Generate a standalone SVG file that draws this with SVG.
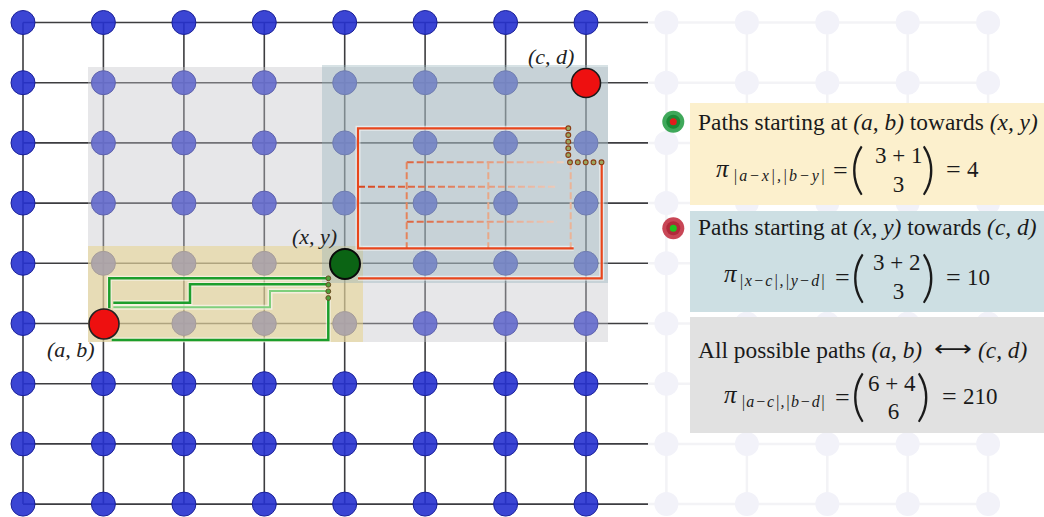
<svg xmlns="http://www.w3.org/2000/svg" xmlns:xlink="http://www.w3.org/1999/xlink" width="1044" height="517" viewBox="0 0 1044 517">
<style>
.gl{stroke:#3d3d40;stroke-width:1.6;fill:none}
.fl{stroke:#f3f3f6;stroke-width:2.5;fill:none}
.lbl{font-family:"Liberation Serif",serif;font-style:italic;font-size:22px;fill:#222}
.t{font-family:"Liberation Serif",serif;font-size:23.4px;fill:#1a1a1a}
.m{font-family:"Liberation Serif",serif;fill:#1a1a1a}
.it{font-style:italic}
.par{font-family:Lato,"Open Sans",sans-serif;font-weight:300;fill:#1a1a1a}
.gp{fill:none;stroke:#1c9e2c;stroke-width:2.5}
.gpl{fill:none;stroke:#7fcf7c;stroke-width:2}
.halo{fill:none;stroke:#ffffff;stroke-opacity:0.55;stroke-width:5}
.rp{fill:none;stroke:#e8461c;stroke-width:2.2}
.rd{fill:none;stroke-width:2;stroke-dasharray:7 3}
.gdot{fill:#4fa03a;stroke:#6a4a22;stroke-width:1}
.rdot{fill:#9aa860;stroke:#8a3c14;stroke-width:1.1}
</style>
<defs>
<circle id="n" r="12" fill="#2631cf" fill-opacity="0.9" stroke="#1b2199" stroke-width="1"/>
<circle id="fn" r="12" fill="#f2f2f9"/>
<linearGradient id="rg" gradientUnits="userSpaceOnUse" x1="358" y1="0" x2="572" y2="0">
<stop offset="0" stop-color="#d8441c"/>
<stop offset="0.55" stop-color="#e49070"/>
<stop offset="1" stop-color="#efd6c8"/>
</linearGradient>
</defs>
<rect width="1044" height="517" fill="#ffffff"/>

<!-- faded grid on the right -->
<g id="faded-grid">
<path class="fl" d="M648,22.5H988M648,82.7H988M648,142.9H988M648,203.1H988M648,263.3H988M648,323.5H988M648,383.7H988M648,443.9H988M648,504.1H988M666.4,22.5V504.1M746.9,22.5V504.1M827.3,22.5V504.1M907.7,22.5V504.1M988.1,22.5V504.1"/>
<g transform="translate(0,22.5)"><use href="#fn" x="666.4"/><use href="#fn" x="746.9"/><use href="#fn" x="827.3"/><use href="#fn" x="907.7"/><use href="#fn" x="988.1"/></g>
<g transform="translate(0,82.7)"><use href="#fn" x="666.4"/><use href="#fn" x="746.9"/><use href="#fn" x="827.3"/><use href="#fn" x="907.7"/><use href="#fn" x="988.1"/></g>
<g transform="translate(0,142.9)"><use href="#fn" x="666.4"/><use href="#fn" x="746.9"/><use href="#fn" x="827.3"/><use href="#fn" x="907.7"/><use href="#fn" x="988.1"/></g>
<g transform="translate(0,203.1)"><use href="#fn" x="666.4"/><use href="#fn" x="746.9"/><use href="#fn" x="827.3"/><use href="#fn" x="907.7"/><use href="#fn" x="988.1"/></g>
<g transform="translate(0,263.3)"><use href="#fn" x="666.4"/><use href="#fn" x="746.9"/><use href="#fn" x="827.3"/><use href="#fn" x="907.7"/><use href="#fn" x="988.1"/></g>
<g transform="translate(0,323.5)"><use href="#fn" x="666.4"/><use href="#fn" x="746.9"/><use href="#fn" x="827.3"/><use href="#fn" x="907.7"/><use href="#fn" x="988.1"/></g>
<g transform="translate(0,383.7)"><use href="#fn" x="666.4"/><use href="#fn" x="746.9"/><use href="#fn" x="827.3"/><use href="#fn" x="907.7"/><use href="#fn" x="988.1"/></g>
<g transform="translate(0,443.9)"><use href="#fn" x="666.4"/><use href="#fn" x="746.9"/><use href="#fn" x="827.3"/><use href="#fn" x="907.7"/><use href="#fn" x="988.1"/></g>
<g transform="translate(0,504.1)"><use href="#fn" x="666.4"/><use href="#fn" x="746.9"/><use href="#fn" x="827.3"/><use href="#fn" x="907.7"/><use href="#fn" x="988.1"/></g>
</g>

<!-- main lattice -->
<g id="lattice">
<path class="gl" d="M23,22.5H648M23,82.7H648M23,142.9H648M23,203.1H648M23,263.3H648M23,323.5H648M23,383.7H648M23,443.9H648M23,504.1H648M23,22.5V504.1M103.4,22.5V504.1M183.9,22.5V504.1M264.3,22.5V504.1M344.7,22.5V504.1M425.1,22.5V504.1M505.6,22.5V504.1M586,22.5V504.1"/>
<g transform="translate(0,22.5)"><use href="#n" x="23"/><use href="#n" x="103.4"/><use href="#n" x="183.9"/><use href="#n" x="264.3"/><use href="#n" x="344.7"/><use href="#n" x="425.1"/><use href="#n" x="505.6"/><use href="#n" x="586"/></g>
<g transform="translate(0,82.7)"><use href="#n" x="23"/><use href="#n" x="103.4"/><use href="#n" x="183.9"/><use href="#n" x="264.3"/><use href="#n" x="344.7"/><use href="#n" x="425.1"/><use href="#n" x="505.6"/><use href="#n" x="586"/></g>
<g transform="translate(0,142.9)"><use href="#n" x="23"/><use href="#n" x="103.4"/><use href="#n" x="183.9"/><use href="#n" x="264.3"/><use href="#n" x="344.7"/><use href="#n" x="425.1"/><use href="#n" x="505.6"/><use href="#n" x="586"/></g>
<g transform="translate(0,203.1)"><use href="#n" x="23"/><use href="#n" x="103.4"/><use href="#n" x="183.9"/><use href="#n" x="264.3"/><use href="#n" x="344.7"/><use href="#n" x="425.1"/><use href="#n" x="505.6"/><use href="#n" x="586"/></g>
<g transform="translate(0,263.3)"><use href="#n" x="23"/><use href="#n" x="103.4"/><use href="#n" x="183.9"/><use href="#n" x="264.3"/><use href="#n" x="344.7"/><use href="#n" x="425.1"/><use href="#n" x="505.6"/><use href="#n" x="586"/></g>
<g transform="translate(0,323.5)"><use href="#n" x="23"/><use href="#n" x="103.4"/><use href="#n" x="183.9"/><use href="#n" x="264.3"/><use href="#n" x="344.7"/><use href="#n" x="425.1"/><use href="#n" x="505.6"/><use href="#n" x="586"/></g>
<g transform="translate(0,383.7)"><use href="#n" x="23"/><use href="#n" x="103.4"/><use href="#n" x="183.9"/><use href="#n" x="264.3"/><use href="#n" x="344.7"/><use href="#n" x="425.1"/><use href="#n" x="505.6"/><use href="#n" x="586"/></g>
<g transform="translate(0,443.9)"><use href="#n" x="23"/><use href="#n" x="103.4"/><use href="#n" x="183.9"/><use href="#n" x="264.3"/><use href="#n" x="344.7"/><use href="#n" x="425.1"/><use href="#n" x="505.6"/><use href="#n" x="586"/></g>
<g transform="translate(0,504.1)"><use href="#n" x="23"/><use href="#n" x="103.4"/><use href="#n" x="183.9"/><use href="#n" x="264.3"/><use href="#n" x="344.7"/><use href="#n" x="425.1"/><use href="#n" x="505.6"/><use href="#n" x="586"/></g>
</g>

<!-- region overlays -->
<g id="regions">
<rect x="88" y="67" width="520" height="275" fill="#c4c4c8" fill-opacity="0.4"/>
<rect x="88" y="246" width="275" height="96" fill="#e8d288" fill-opacity="0.52"/>
<rect x="322" y="65" width="286" height="218" fill="#8fb0b8" fill-opacity="0.36"/>
</g>

<!-- connectors / paths -->
<g id="connectors">
<g id="green-paths">
<path class="halo" d="M109.3,308.3V278.3H328.3M113.3,302.7H190V284.3H328.3M111.7,340H328.3V298.3"/>
<path class="halo" d="M113.3,307.3H270V291H328.3"/>
<path class="gpl" d="M113.3,307.3H270V291H328.3"/>
<path class="gp" d="M109.3,308.3V278.3H328.3"/>
<path class="gp" d="M113.3,302.7H190V284.3H328.3"/>
<path class="gp" d="M111.7,340H328.3V298.3"/>
<circle class="gdot" cx="328.3" cy="278.3" r="2.4"/>
<circle class="gdot" cx="328.3" cy="284.8" r="2.4"/>
<circle class="gdot" cx="328.3" cy="291.3" r="2.4"/>
<circle class="gdot" cx="328.3" cy="298" r="2.4"/>
</g>
<g id="red-paths">
<path class="halo" d="M573.7,248.3H358V128.3H568.3M358,278.3H601.7V162.3"/>
<path class="rd" stroke="url(#rg)" d="M358,186.7H557"/>
<path class="rd" stroke="url(#rg)" d="M406.7,162.3H570"/>
<path class="rd" stroke="url(#rg)" d="M406.7,221.7H557"/>
<path class="rd" stroke="#e4845c" stroke-width="1.6" d="M406.7,162.3V248.3"/>
<path class="rd" stroke="#e8a888" stroke-width="1.6" d="M488.3,162.3V248.3"/>
<path class="rd" stroke="#eab498" stroke-width="1.6" d="M570.7,162.3V248.3"/>
<path class="rp" d="M573.7,248.3H358V128.3H568.3"/>
<path class="rp" d="M358,278.3H601.7V162.3"/>
<circle class="rdot" cx="568.3" cy="128.3" r="2.4"/>
<circle class="rdot" cx="568.3" cy="135" r="2.4"/>
<circle class="rdot" cx="568.3" cy="141.7" r="2.4"/>
<circle class="rdot" cx="568.3" cy="148.3" r="2.4"/>
<circle class="rdot" cx="568.3" cy="155" r="2.4"/>
<circle class="rdot" cx="570" cy="162.3" r="2.4"/>
<circle class="rdot" cx="577.8" cy="162.3" r="2.4"/>
<circle class="rdot" cx="585.7" cy="162.3" r="2.4"/>
<circle class="rdot" cx="593.5" cy="162.3" r="2.4"/>
<circle class="rdot" cx="601.5" cy="162.3" r="2.4"/>
</g>
</g>

<!-- special nodes -->
<g id="node-cd">
<circle cx="586" cy="83" r="14.5" fill="#ee1010" stroke="#1a1a1a" stroke-width="1.6"/>
<text class="lbl" x="528" y="64">(c, d)</text>
</g>
<g id="node-xy">
<circle cx="345" cy="264" r="15" fill="#0b6414" stroke="#0a0a0a" stroke-width="2"/>
<text class="lbl" x="292" y="244">(x, y)</text>
</g>
<g id="node-ab">
<circle cx="104" cy="324" r="15" fill="#ee1010" stroke="#222" stroke-width="1.6"/>
<text class="lbl" x="47" y="357">(a, b)</text>
</g>

<!-- legend panels -->
<g id="panel-ab-xy">
<rect x="690" y="103" width="354" height="102" fill="#fcefca" fill-opacity="0.95"/>
<circle cx="673.3" cy="121.7" r="11" fill="#3fa85a"/>
<circle cx="673.3" cy="121.7" r="7" fill="#1c8a36"/>
<circle cx="673.3" cy="121.7" r="3.5" fill="#e41b1b"/>
<text class="t" x="698" y="130">Paths starting at <tspan class="it">(a, b)</tspan> towards <tspan class="it">(x, y)</tspan></text>
<text class="m it" x="716" y="177" font-size="25">π</text>
<text class="m it" x="733" y="181" font-size="16" textLength="92" lengthAdjust="spacing">|a−x|,|b−y|</text>
<text class="m" x="833" y="179" font-size="26">=</text>
<text class="par" x="850" y="188" font-size="56">(</text>
<text class="m" x="875" y="163" font-size="23">3 + 1</text>
<text class="m" x="898.5" y="192" font-size="23" text-anchor="middle">3</text>
<text class="par" x="921" y="188" font-size="56">)</text>
<text class="m" x="946" y="178" font-size="26">=</text>
<text class="m" x="967" y="177" font-size="23">4</text>
</g>

<g id="panel-xy-cd">
<rect x="690" y="211" width="354" height="101" fill="#cadde1" fill-opacity="0.95"/>
<circle cx="673.3" cy="228.3" r="11" fill="#c84656"/>
<circle cx="673.3" cy="228.3" r="7" fill="#b02a3a"/>
<circle cx="673.3" cy="228.3" r="3.5" fill="#1fc41f"/>
<text class="t" x="698" y="235">Paths starting at <tspan class="it">(x, y)</tspan> towards <tspan class="it">(c, d)</tspan></text>
<text class="m it" x="724" y="282" font-size="25">π</text>
<text class="m it" x="739" y="286" font-size="16" textLength="86" lengthAdjust="spacing">|x−c|,|y−d|</text>
<text class="m" x="835" y="286" font-size="26">=</text>
<text class="par" x="851" y="296" font-size="56">(</text>
<text class="m" x="873" y="270" font-size="23">3 + 2</text>
<text class="m" x="898.5" y="299" font-size="23" text-anchor="middle">3</text>
<text class="par" x="921" y="296" font-size="56">)</text>
<text class="m" x="946" y="286" font-size="26">=</text>
<text class="m" x="967" y="285" font-size="23">10</text>
</g>

<g id="panel-ab-cd">
<rect x="690" y="317" width="354" height="116" fill="#dfdfdf" fill-opacity="0.95"/>
<text class="t" x="698" y="358">All possible paths <tspan class="it">(a, b)</tspan></text>
<text x="934" y="356" font-family="DejaVu Sans, sans-serif" font-size="22" fill="#1a1a1a" textLength="38" lengthAdjust="spacingAndGlyphs">⟷</text>
<text class="t it" x="978" y="358">(c, d)</text>
<text class="m it" x="724" y="403" font-size="25">π</text>
<text class="m it" x="741" y="407" font-size="16" textLength="84" lengthAdjust="spacing">|a−c|,|b−d|</text>
<text class="m" x="835" y="406" font-size="26">=</text>
<text class="par" x="851" y="415" font-size="56">(</text>
<text class="m" x="868" y="391" font-size="23">6 + 4</text>
<text class="m" x="893.5" y="419" font-size="23" text-anchor="middle">6</text>
<text class="par" x="916" y="415" font-size="56">)</text>
<text class="m" x="942" y="405" font-size="26">=</text>
<text class="m" x="963" y="404" font-size="23">210</text>
</g>
</svg>
